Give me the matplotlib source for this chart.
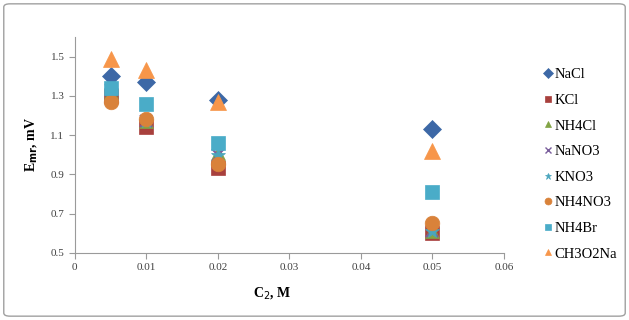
import matplotlib
matplotlib.use("Agg")
import matplotlib.pyplot as plt
from matplotlib.patches import FancyBboxPatch
from matplotlib.lines import Line2D

x_vals = [0.005, 0.01, 0.02, 0.05]
series_names = ["NaCl", "KCl", "NH4Cl", "NaNO3", "KNO3", "NH4NO3", "NH4Br", "CH3O2Na"]
NaCl = [1.40, 1.37, 1.28, 1.13]
KCl = [1.30, 1.14, 0.935, 0.60]
NH4Cl = [1.32, 1.17, 1.01, 0.61]
NaNO3 = [1.33, 1.17, 1.00, 0.61]
KNO3 = [1.33, 1.17, 1.00, 0.61]
NH4NO3 = [1.27, 1.18, 0.955, 0.65]
NH4Br = [1.34, 1.26, 1.06, 0.81]
CH3O2Na = [1.49, 1.43, 1.27, 1.02]
values = [NaCl, KCl, NH4Cl, NaNO3, KNO3, NH4NO3, NH4Br, CH3O2Na]
x_ticks = [0, 0.01, 0.02, 0.03, 0.04, 0.05, 0.06]
y_ticks = [0.5, 0.7, 0.9, 1.1, 1.3, 1.5]

colors = ["#3D68A6", "#A8403D", "#82A445", "#7A5E9C", "#4AA5BD", "#D9823A", "#4AACC8", "#F7964A"]
markers = ["D", "s", "^", "x", "*", "o", "s", "^"]
sizes = [9, 10, 10, 9, 10, 10.5, 10.5, 11]

plt.rcParams['font.family'] = ['Liberation Serif']
fig = plt.figure(figsize=(6.29, 3.2), dpi=100)
border = FancyBboxPatch((0.006, 0.012), 0.988, 0.976, boxstyle="round,pad=0,rounding_size=0.01",
                        transform=fig.transFigure, fill=False, edgecolor="#a0a0a0", linewidth=1.0)
fig.patches.append(border)

ax = fig.add_axes([0.119, 0.21, 0.682, 0.674])
for name, vals, c, m, s in zip(series_names, values, colors, markers, sizes):
    ax.plot(x_vals, vals, linestyle="none", marker=m, color=c, markersize=s,
            markeredgewidth=1.5 if m == "x" else 0.5, markeredgecolor=c, label=name)

ax.set_xlim(0, 0.06)
ax.set_ylim(0.5, 1.6)
ax.set_xticks(x_ticks)
ax.set_xticklabels(["0", "0.01", "0.02", "0.03", "0.04", "0.05", "0.06"])
ax.set_yticks(y_ticks)
ax.set_yticklabels([f"{v:.1f}" for v in y_ticks])
for sp in ["top", "right"]:
    ax.spines[sp].set_visible(False)
for sp in ["left", "bottom"]:
    ax.spines[sp].set_color("#9a9a9a")
ax.tick_params(axis="both", colors="#9a9a9a", labelcolor="#404040", labelsize=8, length=4, direction="out")
ax.set_xlabel("C$_2$, M", fontsize=10, fontweight="bold", labelpad=9, x=0.46)
ax.set_ylabel(r"E$_\mathbf{mr}$, mV", fontsize=10, fontweight="bold", labelpad=8)

handles = [Line2D([], [], linestyle="none", marker=m, color=c, markersize=5,
                  markeredgewidth=1.0 if m == "x" else 0.5, markeredgecolor=c)
           for c, m in zip(colors, markers)]
fig.legend(handles, series_names, loc="upper left", bbox_to_anchor=(0.852, 0.81),
           frameon=False, fontsize=10.5, handlelength=0.6, handletextpad=0.2,
           labelspacing=0.85, borderpad=0)

fig.savefig("out.png", dpi=100)
